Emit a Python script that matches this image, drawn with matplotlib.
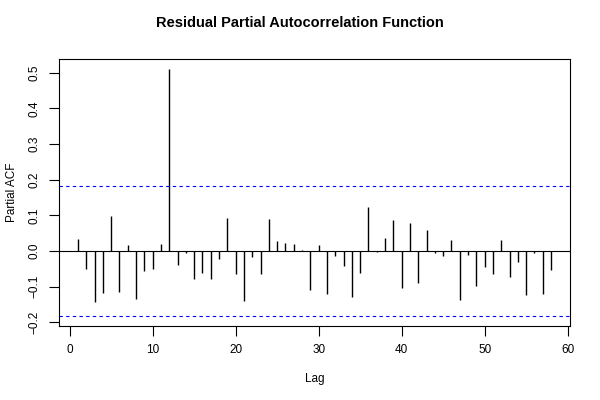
import numpy as np
import matplotlib
matplotlib.use("Agg")
import matplotlib.pyplot as plt

plt.rcParams["font.family"] = ["Liberation Sans", "DejaVu Sans"]

lags = np.arange(1, 59)
pacf_vals = [
    0.033, -0.050, -0.144, -0.119, 0.098, -0.114, 0.016, -0.135, -0.056, -0.050,
    0.020, 0.511, -0.040, -0.007, -0.080, -0.061, -0.080, -0.022, 0.092, -0.065,
    -0.141, -0.016, -0.064, 0.089, 0.028, 0.022, 0.019, 0.003, -0.110, 0.017,
    -0.121, -0.013, -0.043, -0.129, -0.063, 0.124, -0.004, 0.035, 0.087, -0.105,
    0.078, -0.089, 0.060, -0.005, -0.015, 0.031, -0.139, -0.012, -0.099, -0.046,
    -0.066, 0.031, -0.073, -0.030, -0.125, -0.005, -0.122, -0.054,
]
clim = 0.183
x_ticks = [0, 10, 20, 30, 40, 50, 60]
y_ticks = [-0.2, -0.1, 0.0, 0.1, 0.2, 0.3, 0.4, 0.5]

fig = plt.figure(figsize=(6, 4), dpi=100)
ax = fig.add_axes([59 / 600, 74 / 400, 511 / 600, 267 / 400])

ax.vlines(lags, 0, pacf_vals, color="black", lw=1)
ax.axhline(0, color="black", lw=0.8)
ax.axhline(clim, color="blue", ls=(0, (3, 3)), lw=0.8)
ax.axhline(-clim, color="blue", ls=(0, (3, 3)), lw=0.8)

lo, hi = 1, 58
pad = (hi - lo) * 0.04
ax.set_xlim(lo - pad, hi + pad)
ylo, yhi = min(-clim, min(pacf_vals)), max(clim, max(pacf_vals))
ypad = (yhi - ylo) * 0.04
ax.set_ylim(ylo - ypad, yhi + ypad)

ax.set_xticks(x_ticks)
ax.set_yticks(y_ticks)
ax.set_yticklabels([f"{v:.1f}".replace("-", "\u2212") for v in y_ticks],
                   rotation=90, va="center")
ax.tick_params(direction="out", length=7, width=0.8, labelsize=8.5, pad=6)
for s in ax.spines.values():
    s.set_linewidth(0.8)

ax.set_xlabel("Lag", fontsize=8.5, labelpad=12)
ax.set_ylabel("Partial ACF", fontsize=8.5, labelpad=8)
fig.text(0.5, 1 - 23 / 400, "Residual Partial Autocorrelation Function",
         ha="center", va="center", fontsize=10.5, fontweight="bold")

fig.savefig("out.png", dpi=100)
